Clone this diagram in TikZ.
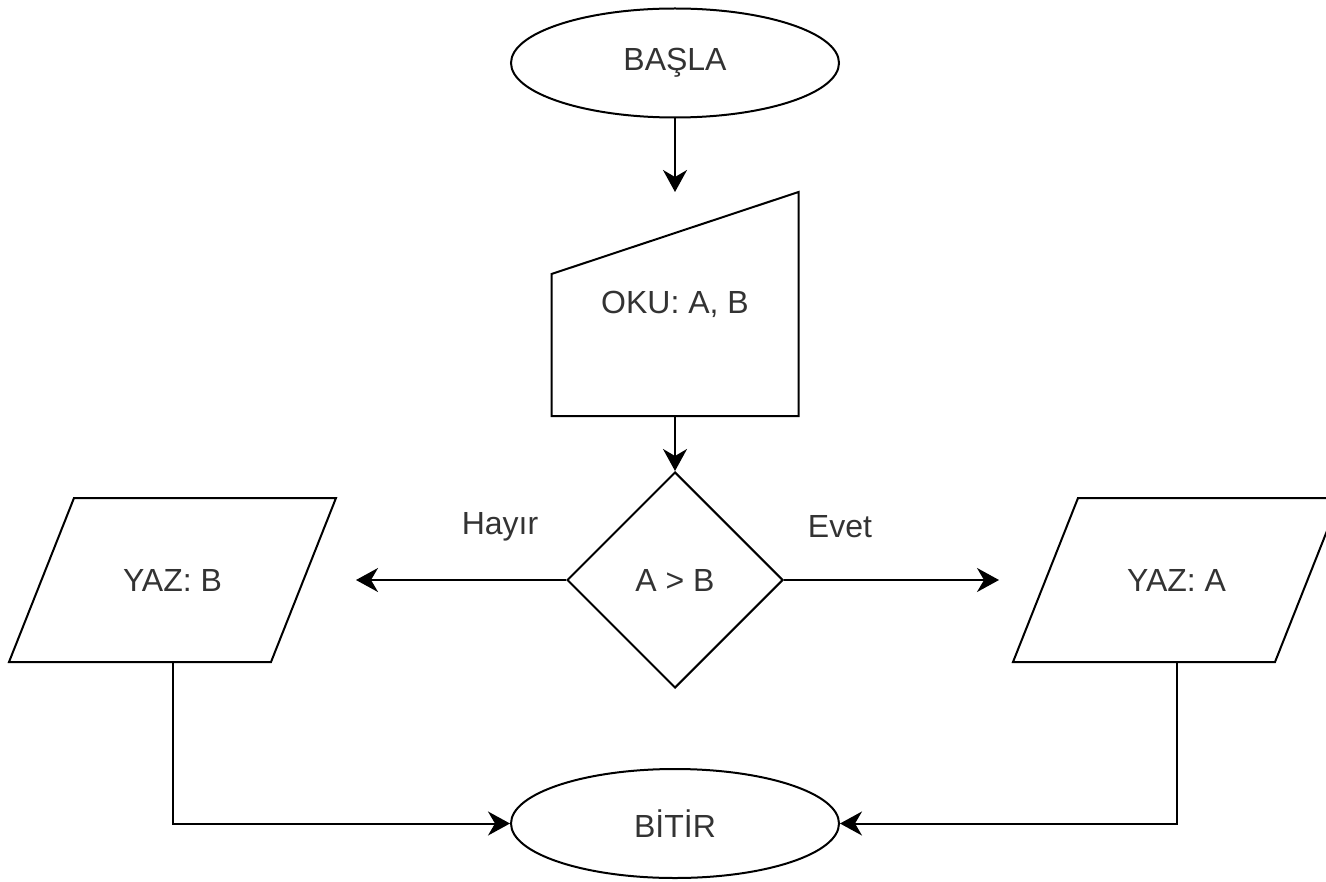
\documentclass[tikz,border=0pt]{standalone}
\usepackage{fontspec}
\setmainfont{Liberation Sans}
\usetikzlibrary{arrows.meta,shapes.geometric,positioning}

\begin{document}
\begin{tikzpicture}[x=0.5pt,y=-0.5pt,>={Stealth[length=11pt,width=12pt,inset=3.5pt]}]

    \tikzstyle{commonNode}=[font=\fontsize{16}{19}\selectfont, text=black!80, align=center, line width=1pt, draw=black]
    \tikzstyle{terminal}=[commonNode, ellipse, minimum width=164pt, minimum height=54.5pt, inner sep=0pt]
    \tikzstyle{decision}=[commonNode, diamond, minimum width=108pt, minimum height=108pt, inner sep=0pt]
    \tikzstyle{output}=[commonNode, draw=none, rectangle, minimum width=162.5pt, minimum height=81pt, inner sep=0pt]
    \tikzstyle{input}=[commonNode, draw=none, rectangle, minimum width=122.5pt, minimum height=111pt, inner sep=0pt]
    \tikzstyle{outline}=[line width=1pt, line join=miter]
    \tikzstyle{flow}=[->, line width=1pt]
    \tikzstyle{branch}=[font=\fontsize{16}{19}\selectfont, text=black!80]

    \useasboundingbox (0,0) rectangle (1326,882);

    % Start and input
    \node at (675, 63)    [terminal]  (start)  {BAŞLA};
    \node at (675, 304)   [input]     (oku)    {\raisebox{-2pt}{OKU: A, B}};
    \draw [outline] (oku.north east) -- (oku.south east) -- (oku.south west)
        -- ([yshift=-41pt]oku.north west) -- cycle;

    % Decision and outputs
    \node at (675, 580)    [decision]  (dec)    {A > B};
    \node at (172.5, 580)  [output]    (yazb)   {YAZ: B};
    \node at (1176.5, 580) [output]    (yaza)   {YAZ: A};
    \draw [outline] ([xshift=32.5pt]yazb.north west) -- (yazb.north east)
        -- ([xshift=-32.5pt]yazb.south east) -- (yazb.south west) -- cycle;
    \draw [outline] ([xshift=32.5pt]yaza.north west) -- (yaza.north east)
        -- ([xshift=-32.5pt]yaza.south east) -- (yaza.south west) -- cycle;
    \node at (500, 527)   [branch]    (hayir)  {Hayır};
    \node at (840, 527)   [branch]    (evet)   {Evet};

    % End
    \node at (675, 823.5) [terminal]  (stop)   {BİTİR};

    % Connectors
    \draw [flow] (start.south) -- (oku.north);
    \draw [flow] (oku.south) -- (dec.north);
    \draw [flow, shorten >=10pt] (dec.west) -- (yazb.east);
    \draw [flow, shorten >=7pt] (dec.east) -- (yaza.west);
    \draw [flow] (yazb.south) |- (stop.west);
    \draw [flow] (yaza.south) |- (stop.east);

\end{tikzpicture}
\end{document}
